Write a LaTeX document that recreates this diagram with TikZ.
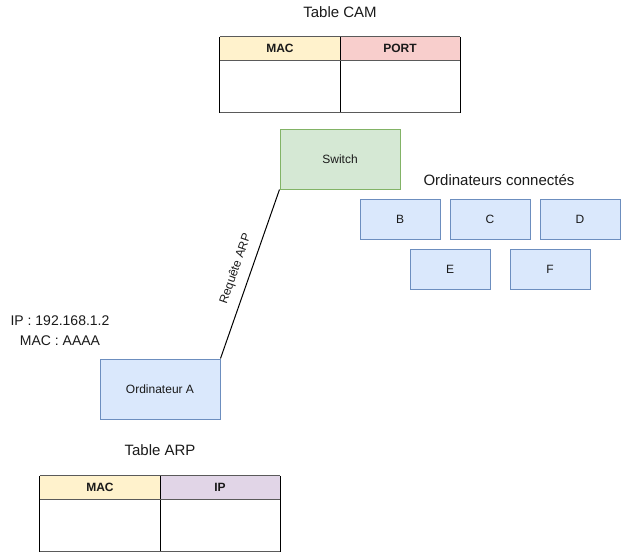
\documentclass[tikz,border=0pt]{standalone}
\usepackage{fontspec}
\setmainfont{Liberation Sans}
\definecolor{bluef}{HTML}{DAE8FC}
\definecolor{bluel}{HTML}{6C8EBF}
\definecolor{greenf}{HTML}{D5E8D4}
\definecolor{greenl}{HTML}{82B366}
\definecolor{yellowf}{HTML}{FFF2CC}
\definecolor{redf}{HTML}{F8CECC}
\definecolor{purplef}{HTML}{E1D5E7}
\definecolor{txt}{HTML}{1A1A1A}
\definecolor{hline}{HTML}{5A5A5A}
\begin{document}
\begin{tikzpicture}[x=1pt,y=-1pt,
  every node/.style={text=txt},
  pc/.style={draw=bluel,fill=bluef,line width=1pt,minimum width=80pt,minimum height=40pt,inner sep=0pt,font=\fontsize{12}{14}\selectfont},
  sw/.style={draw=greenl,fill=greenf,line width=1pt,minimum width=120pt,minimum height=60pt,inner sep=0pt,font=\fontsize{12}{14}\selectfont},
  title/.style={anchor=base,inner sep=0pt,font=\fontsize{15}{18}\selectfont},
  hdr/.style={minimum width=120pt,minimum height=23pt,inner sep=0pt,font=\bfseries\fontsize{12}{14}\selectfont},
  body/.style={minimum width=120pt,minimum height=52pt,inner sep=0pt},
  hl/.style={draw=hline,line width=1.3pt},
  vl/.style={draw=black,line width=1pt},
  conn/.style={draw=black,line width=1pt}
]
\useasboundingbox (0,0) rectangle (621,552);

% Table CAM
\node[title] (camtitle) at (340,17) {Table CAM};
\node[hdr,fill=yellowf] (cammac) at (280,48.5) {MAC};
\node[hdr,fill=redf] (camport) at (400,48.5) {PORT};
\node[body,anchor=north] (cammacb) at (cammac.south) {};
\node[body,anchor=north] (camportb) at (camport.south) {};
\draw[vl] (cammac.north west) -- (cammacb.south west);
\draw[vl] (cammac.north east) -- (cammacb.south east);
\draw[vl] (camport.north east) -- (camportb.south east);
\draw[hl] (cammac.north west) -- (camport.north east);
\draw[hl] (cammac.south west) -- (camport.south east);
\draw[hl] (cammacb.south west) -- (camportb.south east);

% Switch
\node[sw] (switch) at (340,159) {Switch};

% Connected computers
\node[title] (conntitle) at (499,185.5) {Ordinateurs connectés};
\node[pc] (b) at (400,219) {B};
\node[pc] (c) at (490,219) {C};
\node[pc] (d) at (580,219) {D};
\node[pc] (e) at (450,269) {E};
\node[pc] (f) at (550,269) {F};

% Computer A
\node[pc,minimum width=120pt,minimum height=60pt] (pca) at (160,389) {Ordinateur A};
\node[align=center,inner sep=0pt,font=\fontsize{14}{20}\selectfont] (ipinfo) at (60,331) {IP : 192.168.1.2\\MAC : AAAA};

\draw[conn] (pca.north east) -- (switch.south west)
  node[midway,sloped,above,inner sep=9pt,font=\fontsize{12}{14}\selectfont] (lblreq) {Requête ARP};

% Table ARP
\node[title] (arptitle) at (160,455) {Table ARP};
\node[hdr,fill=yellowf] (arpmac) at (100,487.5) {MAC};
\node[hdr,fill=purplef] (arpip) at (220,487.5) {IP};
\node[body,anchor=north] (arpmacb) at (arpmac.south) {};
\node[body,anchor=north] (arpipb) at (arpip.south) {};
\draw[vl] (arpmac.north west) -- (arpmacb.south west);
\draw[vl] (arpmac.north east) -- (arpmacb.south east);
\draw[vl] (arpip.north east) -- (arpipb.south east);
\draw[hl] (arpmac.north west) -- (arpip.north east);
\draw[hl] (arpmac.south west) -- (arpip.south east);
\draw[hl] (arpmacb.south west) -- (arpipb.south east);
\end{tikzpicture}
\end{document}
